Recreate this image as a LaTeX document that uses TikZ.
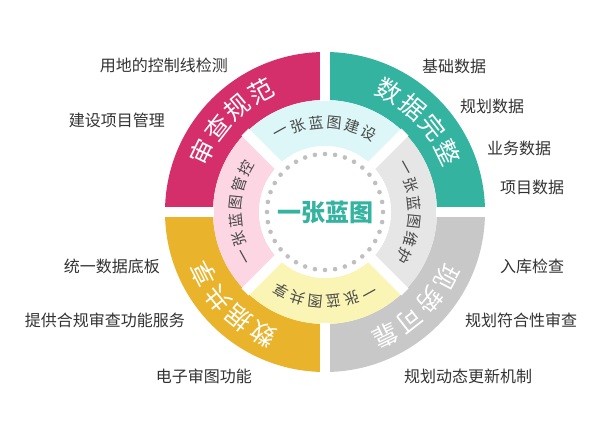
\documentclass[tikz,border=0pt]{standalone}
\usepackage{fontspec}
\setmainfont{Noto Sans CJK SC}
\usetikzlibrary{calc}
\definecolor{cpink}{HTML}{D52F6B}
\definecolor{cteal}{HTML}{34B3A0}
\definecolor{cyel}{HTML}{E9B42B}
\definecolor{cgrey}{HTML}{C8C8C8}
\definecolor{lcyan}{HTML}{DDF7F8}
\definecolor{lpink}{HTML}{FCD6E2}
\definecolor{lyel}{HTML}{FAF5B4}
\definecolor{lgrey}{HTML}{E6E6E6}
\definecolor{ctext}{HTML}{333333}
\newcommand\annsec[5]{\fill[#5] ($(C)+(#1:#3)$) arc[start angle=#1,end angle=#2,radius=#3] -- ($(C)+(#2:#4)$) arc[start angle=#2,end angle=#1,radius=#4] -- cycle;}
\newcommand\arctxt[5]{\foreach \c [count=\i from 0] in {#5}{\pgfmathsetmacro\ang{#2+\i*(#3)}\node[#4,rotate=\ang-90] at ($(C)+(\ang:#1)$) {\c};}}
\begin{document}
\begin{tikzpicture}[x=1pt,y=1pt,
  lab/.style={font=\fontsize{16}{18}\selectfont,text=ctext,inner sep=0pt},
  big/.style={font=\fontsize{25}{27}\selectfont,text=white,inner sep=0pt},
  small/.style={font=\fontsize{15}{17}\selectfont,text=ctext!90,inner sep=0pt}]
\useasboundingbox[fill=white] (0,0) rectangle (607,433);
\coordinate (C) at (325,221);
\annsec{0}{90}{112}{160}{cteal}
\annsec{90}{180}{112}{160}{cpink}
\annsec{180}{270}{112}{160}{cyel}
\annsec{270}{360}{112}{160}{cgrey}
\annsec{45}{135}{66}{112}{lcyan}
\annsec{135}{225}{66}{112}{lpink}
\annsec{225}{315}{66}{112}{lyel}
\annsec{-45}{45}{66}{112}{lgrey}
\foreach \a in {0,90,180,270}{\draw[white,line width=10pt] ($(C)+(\a:111)$) -- ($(C)+(\a:162)$);}
\foreach \a in {45,135,225,315}{\draw[white,line width=10pt] ($(C)+(\a:60)$) -- ($(C)+(\a:113)$);}
\fill[white] (C) circle[radius=66];
\foreach \a in {0,10,...,350}{\fill[black!25] ($(C)+(\a:58)$) circle[radius=2.3];}
\node[font=\fontsize{24}{26}\selectfont\bfseries,text=cteal] (ctr) at (C) {一张蓝图};
\arctxt{137}{154}{-12}{big}{审,查,规,范}
\arctxt{137}{62}{-12}{big}{数,据,完,整}
\arctxt{137}{243}{-12}{big}{数,据,共,享}
\arctxt{137}{-28}{-12}{big}{现,势,可,靠}
\arctxt{90}{119}{-11.6}{small}{一,张,蓝,图,建,设}
\arctxt{90}{209}{-11.6}{small}{一,张,蓝,图,管,控}
\arctxt{90}{-61}{-11.6}{small}{一,张,蓝,图,共,享}
\arctxt{90}{29}{-11.6}{small}{一,张,蓝,图,维,护}
\node[lab,anchor=east] (l1) at (228,368) {用地的控制线检测};
\node[lab,anchor=east] (l2) at (165,313) {建设项目管理};
\node[lab,anchor=east] (l3) at (160,167) {统一数据底板};
\node[lab,anchor=east] (l4) at (185,113) {提供合规审查功能服务};
\node[lab,anchor=east] (l5) at (252,57) {电子审图功能};
\node[lab,anchor=west] (r1) at (422,367) {基础数据};
\node[lab,anchor=west] (r2) at (460,327) {规划数据};
\node[lab,anchor=west] (r3) at (487,285) {业务数据};
\node[lab,anchor=west] (r4) at (500,246) {项目数据};
\node[lab,anchor=west] (r5) at (500,167) {入库检查};
\node[lab,anchor=west] (r6) at (465,113) {规划符合性审查};
\node[lab,anchor=west] (r7) at (404,57) {规划动态更新机制};
\end{tikzpicture}
\end{document}
